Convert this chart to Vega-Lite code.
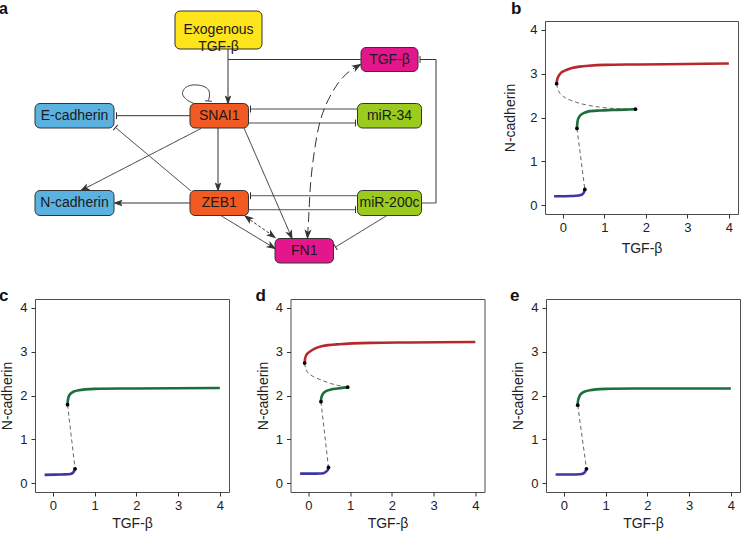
{
  "$schema": "https://vega.github.io/schema/vega-lite/v6.json",
  "padding": {"left": -2, "top": -1, "right": 0, "bottom": 0},
  "config": {
    "font": "Liberation Sans",
    "view": {"stroke": "#4d4d4d", "strokeWidth": 1},
    "axis": {"grid": false, "domain": false, "tickColor": "#333", "tickSize": 4, "labelFontSize": 13, "labelColor": "#222", "labelPadding": 3, "titleFontSize": 14, "titleFontWeight": "normal", "titleColor": "#222"},
    "axisX": {"titlePadding": 4},
    "axisY": {"titlePadding": 5, "labelPadding": 4},
    "title": {"fontSize": 17, "fontWeight": "bold", "anchor": "start", "frame": "group", "color": "#111", "baseline": "alphabetic"}
  },
  "datasets": {
    "nodes": [
      {"id": "exo", "label": "Exogenous\nTGF-β", "group": "input", "x1": 176, "y1": 12, "x2": 263, "y2": 50},
      {"id": "tgfb", "label": "TGF-β", "group": "secreted", "x1": 362, "y1": 48.5, "x2": 419, "y2": 72.5},
      {"id": "ecad", "label": "E-cadherin", "group": "marker", "x1": 36, "y1": 104.5, "x2": 115, "y2": 129},
      {"id": "snai1", "label": "SNAI1", "group": "tf", "x1": 191, "y1": 104.5, "x2": 249.5, "y2": 129},
      {"id": "mir34", "label": "miR-34", "group": "mirna", "x1": 358.5, "y1": 104.5, "x2": 422.5, "y2": 129},
      {"id": "ncad", "label": "N-cadherin", "group": "marker", "x1": 36, "y1": 191.5, "x2": 115, "y2": 216.5},
      {"id": "zeb1", "label": "ZEB1", "group": "tf", "x1": 191, "y1": 191.5, "x2": 249.5, "y2": 216.5},
      {"id": "mir200c", "label": "miR-200c", "group": "mirna", "x1": 358.5, "y1": 191.5, "x2": 422.5, "y2": 216.5},
      {"id": "fn1", "label": "FN1", "group": "secreted", "x1": 276, "y1": 239.5, "x2": 334.5, "y2": 264}
    ],
    "edges": [
      {"x1": 229, "y1": 50, "x2": 229, "y2": 104, "kind": "direct"},
      {"x1": 362, "y1": 60.5, "x2": 229, "y2": 60.5, "kind": "direct"},
      {"x1": 422.5, "y1": 204, "x2": 437, "y2": 204, "kind": "direct"},
      {"x1": 437, "y1": 204, "x2": 437, "y2": 60.5, "kind": "direct"},
      {"x1": 437, "y1": 60.5, "x2": 421, "y2": 60.5, "kind": "direct"},
      {"x1": 191, "y1": 116.7, "x2": 117.5, "y2": 116.7, "kind": "direct"},
      {"x1": 358.5, "y1": 110, "x2": 251.5, "y2": 110, "kind": "direct"},
      {"x1": 249.5, "y1": 124, "x2": 356.5, "y2": 124, "kind": "direct"},
      {"x1": 192, "y1": 192, "x2": 116.5, "y2": 128.5, "kind": "direct"},
      {"x1": 202, "y1": 129.5, "x2": 83, "y2": 191, "kind": "direct"},
      {"x1": 219, "y1": 129, "x2": 219, "y2": 190, "kind": "direct"},
      {"x1": 245, "y1": 129, "x2": 292.5, "y2": 238, "kind": "direct"},
      {"x1": 191, "y1": 204, "x2": 117, "y2": 204, "kind": "direct"},
      {"x1": 358.5, "y1": 196.7, "x2": 251.5, "y2": 196.7, "kind": "direct"},
      {"x1": 249.5, "y1": 210.7, "x2": 356.5, "y2": 210.7, "kind": "direct"},
      {"x1": 221.7, "y1": 216.5, "x2": 274.5, "y2": 248.5, "kind": "direct"},
      {"x1": 247, "y1": 218, "x2": 275, "y2": 237.5, "kind": "indirect"},
      {"x1": 388, "y1": 216.5, "x2": 336.5, "y2": 248, "kind": "direct"}
    ],
    "paths": [
      {"edge": "loop", "kind": "direct", "i": 0, "x": 195, "y": 104.5},
      {"edge": "loop", "kind": "direct", "i": 1, "x": 187.5, "y": 100.5},
      {"edge": "loop", "kind": "direct", "i": 2, "x": 183.5, "y": 95},
      {"edge": "loop", "kind": "direct", "i": 3, "x": 185.5, "y": 89.5},
      {"edge": "loop", "kind": "direct", "i": 4, "x": 191, "y": 86.5},
      {"edge": "loop", "kind": "direct", "i": 5, "x": 198, "y": 86},
      {"edge": "loop", "kind": "direct", "i": 6, "x": 205, "y": 87.5},
      {"edge": "loop", "kind": "direct", "i": 7, "x": 209.5, "y": 91},
      {"edge": "loop", "kind": "direct", "i": 8, "x": 210.5, "y": 96},
      {"edge": "loop", "kind": "direct", "i": 9, "x": 209.5, "y": 101.5},
      {"edge": "fn1tgfb", "kind": "secreted", "i": 0, "x": 308.5, "y": 238},
      {"edge": "fn1tgfb", "kind": "secreted", "i": 1, "x": 309.5, "y": 222},
      {"edge": "fn1tgfb", "kind": "secreted", "i": 2, "x": 311.7, "y": 183.3},
      {"edge": "fn1tgfb", "kind": "secreted", "i": 3, "x": 315, "y": 155},
      {"edge": "fn1tgfb", "kind": "secreted", "i": 4, "x": 320, "y": 126.7},
      {"edge": "fn1tgfb", "kind": "secreted", "i": 5, "x": 326, "y": 108},
      {"edge": "fn1tgfb", "kind": "secreted", "i": 6, "x": 333.3, "y": 93.3},
      {"edge": "fn1tgfb", "kind": "secreted", "i": 7, "x": 340, "y": 83},
      {"edge": "fn1tgfb", "kind": "secreted", "i": 8, "x": 346.7, "y": 75.5},
      {"edge": "fn1tgfb", "kind": "secreted", "i": 9, "x": 353, "y": 70.5},
      {"edge": "fn1tgfb", "kind": "secreted", "i": 10, "x": 360, "y": 66}
    ],
    "tips": [
      {"type": "arrow", "x": 229, "y": 104.5, "fx": 229, "fy": 90},
      {"type": "arrow", "x": 82, "y": 191.5, "fx": 202, "fy": 129.5},
      {"type": "arrow", "x": 219, "y": 191.5, "fx": 219, "fy": 150},
      {"type": "arrow", "x": 293, "y": 239.5, "fx": 245, "fy": 129},
      {"type": "arrow", "x": 115.5, "y": 204, "fx": 191, "fy": 204},
      {"type": "arrow", "x": 276, "y": 249.5, "fx": 221.7, "fy": 216.5},
      {"type": "arrow", "x": 276, "y": 238.5, "fx": 246, "fy": 217},
      {"type": "arrow", "x": 246, "y": 217, "fx": 276, "fy": 238.5},
      {"type": "arrow", "x": 308.5, "y": 239, "fx": 309.3, "fy": 225},
      {"type": "arrow", "x": 361.5, "y": 65.5, "fx": 352, "fy": 71},
      {"type": "tee", "x": 421, "y": 60.5, "fx": 437, "fy": 60.5},
      {"type": "tee", "x": 117.5, "y": 116.7, "fx": 191, "fy": 116.7},
      {"type": "tee", "x": 251.5, "y": 110, "fx": 358.5, "fy": 110},
      {"type": "tee", "x": 356.5, "y": 124, "fx": 249.5, "fy": 124},
      {"type": "tee", "x": 116.5, "y": 128.5, "fx": 192, "fy": 192},
      {"type": "tee", "x": 251.5, "y": 196.7, "fx": 358.5, "fy": 196.7},
      {"type": "tee", "x": 356.5, "y": 210.7, "fx": 249.5, "fy": 210.7},
      {"type": "tee", "x": 336.5, "y": 248, "fx": 388, "fy": 216.5},
      {"type": "tee", "x": 209.5, "y": 102, "fx": 210, "fy": 95}
    ],
    "stable": [
      {"panel": "b", "branch": "high", "i": 0, "x": -0.15, "y": 2.77},
      {"panel": "b", "branch": "high", "i": 1, "x": -0.135, "y": 2.87},
      {"panel": "b", "branch": "high", "i": 2, "x": -0.1, "y": 2.95},
      {"panel": "b", "branch": "high", "i": 3, "x": -0.03, "y": 3.03},
      {"panel": "b", "branch": "high", "i": 4, "x": 0.1, "y": 3.09},
      {"panel": "b", "branch": "high", "i": 5, "x": 0.22, "y": 3.13},
      {"panel": "b", "branch": "high", "i": 6, "x": 0.4, "y": 3.16},
      {"panel": "b", "branch": "high", "i": 7, "x": 0.62, "y": 3.18},
      {"panel": "b", "branch": "high", "i": 8, "x": 1.0, "y": 3.2},
      {"panel": "b", "branch": "high", "i": 9, "x": 1.82, "y": 3.21},
      {"panel": "b", "branch": "high", "i": 10, "x": 3.0, "y": 3.22},
      {"panel": "b", "branch": "high", "i": 11, "x": 4.0, "y": 3.23},
      {"panel": "b", "branch": "mid", "i": 0, "x": 0.34, "y": 1.75},
      {"panel": "b", "branch": "mid", "i": 1, "x": 0.35, "y": 1.88},
      {"panel": "b", "branch": "mid", "i": 2, "x": 0.37, "y": 1.97},
      {"panel": "b", "branch": "mid", "i": 3, "x": 0.42, "y": 2.05},
      {"panel": "b", "branch": "mid", "i": 4, "x": 0.5, "y": 2.1},
      {"panel": "b", "branch": "mid", "i": 5, "x": 0.62, "y": 2.14},
      {"panel": "b", "branch": "mid", "i": 6, "x": 0.9, "y": 2.16},
      {"panel": "b", "branch": "mid", "i": 7, "x": 1.18, "y": 2.17},
      {"panel": "b", "branch": "mid", "i": 8, "x": 1.5, "y": 2.18},
      {"panel": "b", "branch": "mid", "i": 9, "x": 1.75, "y": 2.19},
      {"panel": "b", "branch": "low", "i": 0, "x": -0.21, "y": 0.205},
      {"panel": "b", "branch": "low", "i": 1, "x": 0.2, "y": 0.21},
      {"panel": "b", "branch": "low", "i": 2, "x": 0.38, "y": 0.22},
      {"panel": "b", "branch": "low", "i": 3, "x": 0.46, "y": 0.24},
      {"panel": "b", "branch": "low", "i": 4, "x": 0.5, "y": 0.28},
      {"panel": "b", "branch": "low", "i": 5, "x": 0.53, "y": 0.36},
      {"panel": "c", "branch": "low", "i": 0, "x": -0.2, "y": 0.19},
      {"panel": "c", "branch": "low", "i": 1, "x": 0.2, "y": 0.2},
      {"panel": "c", "branch": "low", "i": 2, "x": 0.42, "y": 0.21},
      {"panel": "c", "branch": "low", "i": 3, "x": 0.48, "y": 0.24},
      {"panel": "c", "branch": "low", "i": 4, "x": 0.51, "y": 0.28},
      {"panel": "c", "branch": "low", "i": 5, "x": 0.53, "y": 0.33},
      {"panel": "c", "branch": "mid", "i": 0, "x": 0.35, "y": 1.79},
      {"panel": "c", "branch": "mid", "i": 1, "x": 0.36, "y": 1.9},
      {"panel": "c", "branch": "mid", "i": 2, "x": 0.38, "y": 1.98},
      {"panel": "c", "branch": "mid", "i": 3, "x": 0.42, "y": 2.04},
      {"panel": "c", "branch": "mid", "i": 4, "x": 0.5, "y": 2.09},
      {"panel": "c", "branch": "mid", "i": 5, "x": 0.62, "y": 2.12},
      {"panel": "c", "branch": "mid", "i": 6, "x": 1.0, "y": 2.15},
      {"panel": "c", "branch": "mid", "i": 7, "x": 2.0, "y": 2.16},
      {"panel": "c", "branch": "mid", "i": 8, "x": 4.0, "y": 2.17},
      {"panel": "d", "branch": "high", "i": 0, "x": -0.09, "y": 2.74},
      {"panel": "d", "branch": "high", "i": 1, "x": -0.075, "y": 2.86},
      {"panel": "d", "branch": "high", "i": 2, "x": -0.04, "y": 2.94},
      {"panel": "d", "branch": "high", "i": 3, "x": 0.02, "y": 2.99},
      {"panel": "d", "branch": "high", "i": 4, "x": 0.15, "y": 3.07},
      {"panel": "d", "branch": "high", "i": 5, "x": 0.34, "y": 3.13},
      {"panel": "d", "branch": "high", "i": 6, "x": 0.74, "y": 3.17},
      {"panel": "d", "branch": "high", "i": 7, "x": 1.5, "y": 3.2},
      {"panel": "d", "branch": "high", "i": 8, "x": 2.43, "y": 3.21},
      {"panel": "d", "branch": "high", "i": 9, "x": 4.0, "y": 3.22},
      {"panel": "d", "branch": "mid", "i": 0, "x": 0.3, "y": 1.86},
      {"panel": "d", "branch": "mid", "i": 1, "x": 0.31, "y": 1.95},
      {"panel": "d", "branch": "mid", "i": 2, "x": 0.34, "y": 2.03},
      {"panel": "d", "branch": "mid", "i": 3, "x": 0.42, "y": 2.1},
      {"panel": "d", "branch": "mid", "i": 4, "x": 0.55, "y": 2.14},
      {"panel": "d", "branch": "mid", "i": 5, "x": 0.7, "y": 2.16},
      {"panel": "d", "branch": "mid", "i": 6, "x": 0.94, "y": 2.19},
      {"panel": "d", "branch": "low", "i": 0, "x": -0.2, "y": 0.22},
      {"panel": "d", "branch": "low", "i": 1, "x": 0.2, "y": 0.22},
      {"panel": "d", "branch": "low", "i": 2, "x": 0.36, "y": 0.23},
      {"panel": "d", "branch": "low", "i": 3, "x": 0.42, "y": 0.26},
      {"panel": "d", "branch": "low", "i": 4, "x": 0.46, "y": 0.3},
      {"panel": "d", "branch": "low", "i": 5, "x": 0.48, "y": 0.36},
      {"panel": "e", "branch": "low", "i": 0, "x": -0.2, "y": 0.2},
      {"panel": "e", "branch": "low", "i": 1, "x": 0.2, "y": 0.2},
      {"panel": "e", "branch": "low", "i": 2, "x": 0.43, "y": 0.21},
      {"panel": "e", "branch": "low", "i": 3, "x": 0.49, "y": 0.24},
      {"panel": "e", "branch": "low", "i": 4, "x": 0.52, "y": 0.28},
      {"panel": "e", "branch": "low", "i": 5, "x": 0.54, "y": 0.33},
      {"panel": "e", "branch": "mid", "i": 0, "x": 0.33, "y": 1.78},
      {"panel": "e", "branch": "mid", "i": 1, "x": 0.34, "y": 1.89},
      {"panel": "e", "branch": "mid", "i": 2, "x": 0.37, "y": 1.98},
      {"panel": "e", "branch": "mid", "i": 3, "x": 0.41, "y": 2.04},
      {"panel": "e", "branch": "mid", "i": 4, "x": 0.5, "y": 2.09},
      {"panel": "e", "branch": "mid", "i": 5, "x": 0.62, "y": 2.12},
      {"panel": "e", "branch": "mid", "i": 6, "x": 1.0, "y": 2.15},
      {"panel": "e", "branch": "mid", "i": 7, "x": 2.0, "y": 2.16},
      {"panel": "e", "branch": "mid", "i": 8, "x": 4.0, "y": 2.16}
    ],
    "unstable": [
      {"panel": "b", "branch": "u1", "i": 0, "x": -0.15, "y": 2.77},
      {"panel": "b", "branch": "u1", "i": 1, "x": -0.12, "y": 2.65},
      {"panel": "b", "branch": "u1", "i": 2, "x": -0.06, "y": 2.54},
      {"panel": "b", "branch": "u1", "i": 3, "x": 0.06, "y": 2.45},
      {"panel": "b", "branch": "u1", "i": 4, "x": 0.38, "y": 2.33},
      {"panel": "b", "branch": "u1", "i": 5, "x": 0.86, "y": 2.24},
      {"panel": "b", "branch": "u1", "i": 6, "x": 1.34, "y": 2.2},
      {"panel": "b", "branch": "u1", "i": 7, "x": 1.75, "y": 2.19},
      {"panel": "b", "branch": "u2", "i": 0, "x": 0.34, "y": 1.75},
      {"panel": "b", "branch": "u2", "i": 1, "x": 0.53, "y": 0.36},
      {"panel": "c", "branch": "u2", "i": 0, "x": 0.35, "y": 1.79},
      {"panel": "c", "branch": "u2", "i": 1, "x": 0.53, "y": 0.33},
      {"panel": "d", "branch": "u1", "i": 0, "x": -0.09, "y": 2.74},
      {"panel": "d", "branch": "u1", "i": 1, "x": -0.06, "y": 2.6},
      {"panel": "d", "branch": "u1", "i": 2, "x": 0.02, "y": 2.49},
      {"panel": "d", "branch": "u1", "i": 3, "x": 0.34, "y": 2.34},
      {"panel": "d", "branch": "u1", "i": 4, "x": 0.66, "y": 2.24},
      {"panel": "d", "branch": "u1", "i": 5, "x": 0.94, "y": 2.19},
      {"panel": "d", "branch": "u2", "i": 0, "x": 0.3, "y": 1.86},
      {"panel": "d", "branch": "u2", "i": 1, "x": 0.48, "y": 0.36},
      {"panel": "e", "branch": "u2", "i": 0, "x": 0.33, "y": 1.78},
      {"panel": "e", "branch": "u2", "i": 1, "x": 0.54, "y": 0.33}
    ],
    "folds": [
      {"panel": "b", "x": -0.15, "y": 2.77},
      {"panel": "b", "x": 1.75, "y": 2.19},
      {"panel": "b", "x": 0.34, "y": 1.75},
      {"panel": "b", "x": 0.53, "y": 0.36},
      {"panel": "c", "x": 0.53, "y": 0.33},
      {"panel": "c", "x": 0.35, "y": 1.79},
      {"panel": "d", "x": -0.09, "y": 2.74},
      {"panel": "d", "x": 0.94, "y": 2.19},
      {"panel": "d", "x": 0.3, "y": 1.86},
      {"panel": "d", "x": 0.48, "y": 0.36},
      {"panel": "e", "x": 0.54, "y": 0.33},
      {"panel": "e", "x": 0.33, "y": 1.78}
    ]
  },
  "spacing": 22,
  "vconcat": [
    {
      "bounds": "flush",
      "spacing": 20,
      "hconcat": [
        {
          "width": 490,
          "height": 243,
          "view": {"stroke": null},
          "title": {"text": "a", "dx": -36, "offset": -6, "fontSize": 16},
          "layer": [
            {
              "data": {"name": "edges"},
              "mark": {"type": "rule", "color": "#333", "strokeWidth": 1},
              "encoding": {
                "x": {"field": "x1", "type": "quantitative", "scale": {"domain": [36, 526], "nice": false, "zero": false}, "axis": null},
                "y": {"field": "y1", "type": "quantitative", "scale": {"domain": [22, 265], "nice": false, "zero": false, "reverse": true}, "axis": null},
                "x2": {"field": "x2"},
                "y2": {"field": "y2"},
                "strokeDash": {"field": "kind", "type": "nominal", "scale": {"domain": ["direct", "indirect", "secreted"], "range": [[1, 0], [3, 2], [10, 5]]}, "legend": null}
              }
            },
            {
              "data": {"name": "paths"},
              "mark": {"type": "line", "color": "#333", "strokeWidth": 1, "interpolate": "catmull-rom"},
              "encoding": {
                "x": {"field": "x", "type": "quantitative", "scale": {"domain": [36, 526], "nice": false, "zero": false}, "axis": null},
                "y": {"field": "y", "type": "quantitative", "scale": {"domain": [22, 265], "nice": false, "zero": false, "reverse": true}, "axis": null},
                "detail": {"field": "edge"},
                "order": {"field": "i", "type": "quantitative"},
                "strokeDash": {"field": "kind", "type": "nominal", "scale": {"domain": ["direct", "indirect", "secreted"], "range": [[1, 0], [3, 2], [10, 5]]}, "legend": null}
              }
            },
            {
              "data": {"name": "nodes"},
              "mark": {"type": "rect", "cornerRadius": 5, "stroke": "#333", "strokeWidth": 1},
              "encoding": {
                "x": {"field": "x1", "type": "quantitative", "scale": {"domain": [36, 526], "nice": false, "zero": false}, "axis": null},
                "x2": {"field": "x2"},
                "y": {"field": "y1", "type": "quantitative", "scale": {"domain": [22, 265], "nice": false, "zero": false, "reverse": true}, "axis": null},
                "y2": {"field": "y2"},
                "fill": {"field": "group", "type": "nominal", "scale": {"domain": ["input", "secreted", "marker", "tf", "mirna"], "range": ["#fde41b", "#e3168b", "#5bb1df", "#f15a22", "#9bcb1f"]}, "legend": null}
              }
            },
            {
              "data": {"name": "nodes"},
              "transform": [
                {"calculate": "(datum.x1 + datum.x2) / 2", "as": "cx"},
                {"calculate": "(datum.y1 + datum.y2) / 2", "as": "cy"}
              ],
              "mark": {"type": "text", "fontSize": 14, "color": "#1a1a1a", "lineBreak": "\n", "lineHeight": 17, "baseline": "middle"},
              "encoding": {
                "x": {"field": "cx", "type": "quantitative", "scale": {"domain": [36, 526], "nice": false, "zero": false}, "axis": null},
                "y": {"field": "cy", "type": "quantitative", "scale": {"domain": [22, 265], "nice": false, "zero": false, "reverse": true}, "axis": null},
                "text": {"field": "label"}
              }
            },
            {
              "data": {"name": "tips"},
              "transform": [{"calculate": "atan2(datum.x - datum.fx, datum.fy - datum.y) * 180 / PI", "as": "ang"}],
              "mark": {"type": "point", "filled": true, "fill": "#333", "stroke": "#333", "strokeWidth": 1, "size": 40, "opacity": 1},
              "encoding": {
                "x": {"field": "x", "type": "quantitative", "scale": {"domain": [36, 526], "nice": false, "zero": false}, "axis": null},
                "y": {"field": "y", "type": "quantitative", "scale": {"domain": [22, 265], "nice": false, "zero": false, "reverse": true}, "axis": null},
                "angle": {"field": "ang", "type": "quantitative", "scale": null},
                "shape": {"field": "type", "type": "nominal", "scale": {"domain": ["arrow", "tee"], "range": ["M0,0L0.8,2.3L0,1.7L-0.8,2.3Z", "M-1.1,0L1.1,0"]}, "legend": null}
              }
            }
          ]
        },
        {
          "width": 193,
          "height": 193,
          "title": {"text": "b", "dx": -34, "offset": 3.5},
          "encoding": {
            "x": {"field": "x", "type": "quantitative", "scale": {"domain": [-0.43, 4.22], "nice": false, "zero": false}, "axis": {"values": [0, 1, 2, 3, 4], "title": "TGF-β", "titlePadding": 7}},
            "y": {"field": "y", "type": "quantitative", "scale": {"domain": [-0.2, 4.2], "nice": false, "zero": false}, "axis": {"values": [0, 1, 2, 3, 4], "title": "N-cadherin", "titlePadding": 12}}
          },
          "layer": [
            {"data": {"name": "unstable"}, "transform": [{"filter": "datum.panel === 'b'"}], "mark": {"type": "line", "strokeDash": [4, 3], "strokeWidth": 0.9, "color": "#555", "interpolate": "catmull-rom"}, "encoding": {"detail": {"field": "branch"}, "order": {"field": "i", "type": "quantitative"}}},
            {"data": {"name": "stable"}, "transform": [{"filter": "datum.panel === 'b'"}], "mark": {"type": "line", "strokeWidth": 2.6, "interpolate": "catmull-rom"}, "encoding": {"color": {"field": "branch", "type": "nominal", "scale": {"domain": ["low", "mid", "high"], "range": ["#3d37a3", "#1c6e3d", "#b7282e"]}, "legend": null}, "order": {"field": "i", "type": "quantitative"}}},
            {"data": {"name": "folds"}, "transform": [{"filter": "datum.panel === 'b'"}], "mark": {"type": "point", "filled": true, "color": "#000", "size": 14, "opacity": 1}}
          ]
        }
      ]
    },
    {
      "bounds": "flush",
      "spacing": 61.5,
      "hconcat": [
        {
          "width": 194,
          "height": 193,
          "title": {"text": "c", "dx": -36, "offset": -6},
          "encoding": {
            "x": {"field": "x", "type": "quantitative", "scale": {"domain": [-0.43, 4.22], "nice": false, "zero": false}, "axis": {"values": [0, 1, 2, 3, 4], "title": "TGF-β"}},
            "y": {"field": "y", "type": "quantitative", "scale": {"domain": [-0.2, 4.2], "nice": false, "zero": false}, "axis": {"values": [0, 1, 2, 3, 4], "title": "N-cadherin"}}
          },
          "layer": [
            {"data": {"name": "unstable"}, "transform": [{"filter": "datum.panel === 'c'"}], "mark": {"type": "line", "strokeDash": [4, 3], "strokeWidth": 0.9, "color": "#555", "interpolate": "catmull-rom"}, "encoding": {"detail": {"field": "branch"}, "order": {"field": "i", "type": "quantitative"}}},
            {"data": {"name": "stable"}, "transform": [{"filter": "datum.panel === 'c'"}], "mark": {"type": "line", "strokeWidth": 2.6, "interpolate": "catmull-rom"}, "encoding": {"color": {"field": "branch", "type": "nominal", "scale": {"domain": ["low", "mid", "high"], "range": ["#3d37a3", "#1c6e3d", "#b7282e"]}, "legend": null}, "order": {"field": "i", "type": "quantitative"}}},
            {"data": {"name": "folds"}, "transform": [{"filter": "datum.panel === 'c'"}], "mark": {"type": "point", "filled": true, "color": "#000", "size": 14, "opacity": 1}}
          ]
        },
        {
          "width": 194,
          "height": 193,
          "title": {"text": "d", "dx": -35, "offset": -6},
          "encoding": {
            "x": {"field": "x", "type": "quantitative", "scale": {"domain": [-0.43, 4.22], "nice": false, "zero": false}, "axis": {"values": [0, 1, 2, 3, 4], "title": "TGF-β"}},
            "y": {"field": "y", "type": "quantitative", "scale": {"domain": [-0.2, 4.2], "nice": false, "zero": false}, "axis": {"values": [0, 1, 2, 3, 4], "title": "N-cadherin"}}
          },
          "layer": [
            {"data": {"name": "unstable"}, "transform": [{"filter": "datum.panel === 'd'"}], "mark": {"type": "line", "strokeDash": [4, 3], "strokeWidth": 0.9, "color": "#555", "interpolate": "catmull-rom"}, "encoding": {"detail": {"field": "branch"}, "order": {"field": "i", "type": "quantitative"}}},
            {"data": {"name": "stable"}, "transform": [{"filter": "datum.panel === 'd'"}], "mark": {"type": "line", "strokeWidth": 2.6, "interpolate": "catmull-rom"}, "encoding": {"color": {"field": "branch", "type": "nominal", "scale": {"domain": ["low", "mid", "high"], "range": ["#3d37a3", "#1c6e3d", "#b7282e"]}, "legend": null}, "order": {"field": "i", "type": "quantitative"}}},
            {"data": {"name": "folds"}, "transform": [{"filter": "datum.panel === 'd'"}], "mark": {"type": "point", "filled": true, "color": "#000", "size": 14, "opacity": 1}}
          ]
        },
        {
          "width": 194,
          "height": 193,
          "title": {"text": "e", "dx": -36, "offset": -6},
          "encoding": {
            "x": {"field": "x", "type": "quantitative", "scale": {"domain": [-0.43, 4.22], "nice": false, "zero": false}, "axis": {"values": [0, 1, 2, 3, 4], "title": "TGF-β"}},
            "y": {"field": "y", "type": "quantitative", "scale": {"domain": [-0.2, 4.2], "nice": false, "zero": false}, "axis": {"values": [0, 1, 2, 3, 4], "title": "N-cadherin"}}
          },
          "layer": [
            {"data": {"name": "unstable"}, "transform": [{"filter": "datum.panel === 'e'"}], "mark": {"type": "line", "strokeDash": [4, 3], "strokeWidth": 0.9, "color": "#555", "interpolate": "catmull-rom"}, "encoding": {"detail": {"field": "branch"}, "order": {"field": "i", "type": "quantitative"}}},
            {"data": {"name": "stable"}, "transform": [{"filter": "datum.panel === 'e'"}], "mark": {"type": "line", "strokeWidth": 2.6, "interpolate": "catmull-rom"}, "encoding": {"color": {"field": "branch", "type": "nominal", "scale": {"domain": ["low", "mid", "high"], "range": ["#3d37a3", "#1c6e3d", "#b7282e"]}, "legend": null}, "order": {"field": "i", "type": "quantitative"}}},
            {"data": {"name": "folds"}, "transform": [{"filter": "datum.panel === 'e'"}], "mark": {"type": "point", "filled": true, "color": "#000", "size": 14, "opacity": 1}}
          ]
        }
      ]
    }
  ]
}
